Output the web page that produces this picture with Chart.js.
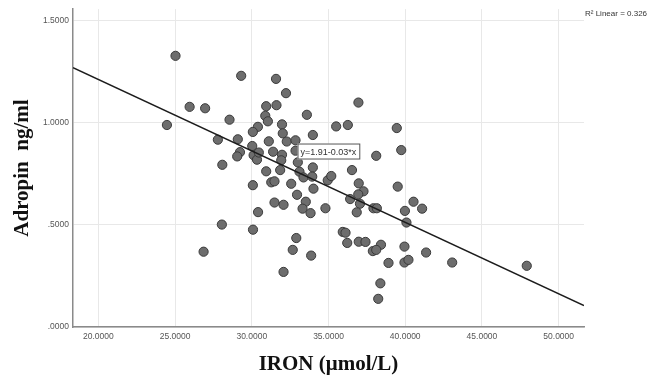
<!DOCTYPE html>
<html>
<head>
<meta charset="utf-8">
<script src="https://cdn.jsdelivr.net/npm/chart.js@4/dist/chart.umd.min.js"></script>
<style>
  html, body { margin: 0; padding: 0; background: #fff; }
  #chart { display: block; }
</style>
</head>
<body>
<canvas id="chart" width="653" height="380"></canvas>
<script>
const xTicks = [20, 25, 30, 35, 40, 45, 50];
const xTickLabels = ["20.0000", "25.0000", "30.0000", "35.0000", "40.0000", "45.0000", "50.0000"];
const yTicks = [0, 0.5, 1, 1.5];
const yTickLabels = [".0000", ".5000", "1.0000", "1.5000"];

// IRON (µmol/L) vs Adropin (ng/ml)
const iron = [
  25.03, 29.31, 31.58, 32.23, 36.95, 25.95, 26.96, 30.94, 31.61, 30.88,
  33.59, 24.47, 28.55, 31.05, 31.97, 30.40, 30.07, 32.02, 33.98, 35.50,
  36.26, 39.45, 27.79, 29.09, 31.11, 32.28, 32.85, 30.03, 29.23, 29.05,
  30.12, 30.34, 30.46, 31.39, 31.97, 31.92, 32.85, 33.00, 28.08, 30.94,
  31.85, 33.11, 33.98, 33.37, 33.94, 34.95, 35.18, 36.53, 38.11, 39.74,
  30.07, 31.27, 31.48, 32.57, 34.02, 36.97, 37.28, 36.94, 36.41, 37.05,
  36.84, 37.93, 38.15, 39.51, 40.54, 41.10, 39.98, 40.08, 32.95, 31.48,
  32.07, 33.52, 33.31, 33.83, 34.80, 30.41, 28.05, 30.08, 26.86, 32.90,
  32.67, 33.87, 32.07, 35.93, 36.11, 36.22, 36.97, 37.41, 38.42, 37.89,
  38.11, 39.95, 41.36, 38.91, 39.95, 40.21, 43.06, 47.92, 38.38, 38.24
];
const adropin = [
  1.329, 1.231, 1.216, 1.146, 1.100, 1.079, 1.072, 1.082, 1.087, 1.035,
  1.040, 0.990, 1.016, 1.008, 0.993, 0.981, 0.956, 0.949, 0.941, 0.983,
  0.990, 0.975, 0.918, 0.920, 0.910, 0.909, 0.915, 0.887, 0.857, 0.836,
  0.842, 0.820, 0.855, 0.859, 0.844, 0.817, 0.864, 0.807, 0.795, 0.763,
  0.769, 0.761, 0.782, 0.733, 0.737, 0.719, 0.740, 0.769, 0.839, 0.867,
  0.695, 0.709, 0.714, 0.702, 0.678, 0.704, 0.665, 0.650, 0.627, 0.604,
  0.562, 0.582, 0.582, 0.688, 0.614, 0.580, 0.569, 0.512, 0.648, 0.610,
  0.599, 0.614, 0.580, 0.558, 0.582, 0.563, 0.502, 0.477, 0.369, 0.436,
  0.378, 0.350, 0.270, 0.466, 0.462, 0.412, 0.418, 0.417, 0.403, 0.372,
  0.378, 0.394, 0.365, 0.314, 0.316, 0.329, 0.316, 0.300, 0.214, 0.138
];

// fitted line end points (y = 1.91 - 0.03*x)
const fitX = [18.35, 51.65];
const fitY = [1.271, 0.105];
const eqText = "y=1.91-0.03*x";
const r2Text = "R² Linear = 0.326";

const points = iron.map((x, i) => ({ x, y: adropin[i] }));
const fitLine = fitX.map((x, i) => ({ x, y: fitY[i] }));

const tickFont = { family: "'Liberation Sans', Arial, sans-serif", size: 8.5 };
const titleFont = { family: "'Liberation Serif', 'Times New Roman', serif", size: 21, weight: "bold" };

const labels = {
  id: "labels",
  afterDatasetsDraw(chart) {
    const { ctx, scales: { x, y } } = chart;
    ctx.save();
    // equation box
    ctx.font = "9px 'Liberation Sans', Arial, sans-serif";
    const px = x.getPixelForValue(32.98);
    const py = y.getPixelForValue(0.86);
    const w = ctx.measureText(eqText).width + 6;
    ctx.fillStyle = "#fff";
    ctx.fillRect(px, py - 8, w, 16);
    ctx.strokeStyle = "#555";
    ctx.lineWidth = 1;
    ctx.strokeRect(px + 0.5, py - 7.5, w, 15);
    ctx.fillStyle = "#333";
    ctx.textBaseline = "middle";
    ctx.fillText(eqText, px + 3, py + 0.5);
    // R² label
    ctx.font = "8px 'Liberation Sans', Arial, sans-serif";
    ctx.fillStyle = "#333";
    ctx.fillText(r2Text, chart.chartArea.right + 1, 14);
    ctx.restore();
  },
};

new Chart(document.getElementById("chart"), {
  type: "scatter",
  data: {
    datasets: [
      {
        type: "line",
        data: fitLine,
        borderColor: "#1c1c1c",
        borderWidth: 1.6,
        pointRadius: 0,
        order: 0,
      },
      {
        data: points,
        backgroundColor: "#6d6d6d",
        borderColor: "#3a3a3a",
        borderWidth: 1,
        pointRadius: 4.6,
        order: 1,
      },
    ],
  },
  options: {
    responsive: false,
    animation: false,
    layout: { padding: { left: 0, top: 8, right: 69, bottom: 0 } },
    plugins: { legend: { display: false }, tooltip: { enabled: false } },
    scales: {
      x: {
        type: "linear",
        min: fitX[0],
        max: fitX[1],
        afterBuildTicks: (s) => { s.ticks = xTicks.map((v) => ({ value: v })); },
        afterFit: (s) => { s.height = 53; },
        ticks: {
          font: tickFont,
          color: "#555",
          padding: 5,
          callback: (v) => xTickLabels[xTicks.indexOf(v)],
        },
        grid: { color: "#e8e8e8", drawTicks: false },
        border: { color: "#8a8a8a", width: 1.5 },
        title: {
          display: true,
          text: "IRON (μmol/L)",
          font: titleFont,
          color: "#111",
          padding: { top: 0, bottom: 3 },
        },
      },
      y: {
        type: "linear",
        min: 0,
        max: 1.558,
        afterBuildTicks: (s) => { s.ticks = yTicks.map((v) => ({ value: v })); },
        afterFit: (s) => { s.width = 73; },
        ticks: {
          font: tickFont,
          color: "#555",
          padding: 4,
          callback: (v) => yTickLabels[yTicks.indexOf(v)],
        },
        grid: { color: "#e8e8e8", drawTicks: false },
        border: { color: "#8a8a8a", width: 1.5 },
        title: {
          display: true,
          text: "Adropin  ng/ml",
          font: titleFont,
          color: "#111",
          padding: { top: 10, bottom: 0 },
        },
      },
    },
  },
  plugins: [labels],
});
</script>
</body>
</html>
